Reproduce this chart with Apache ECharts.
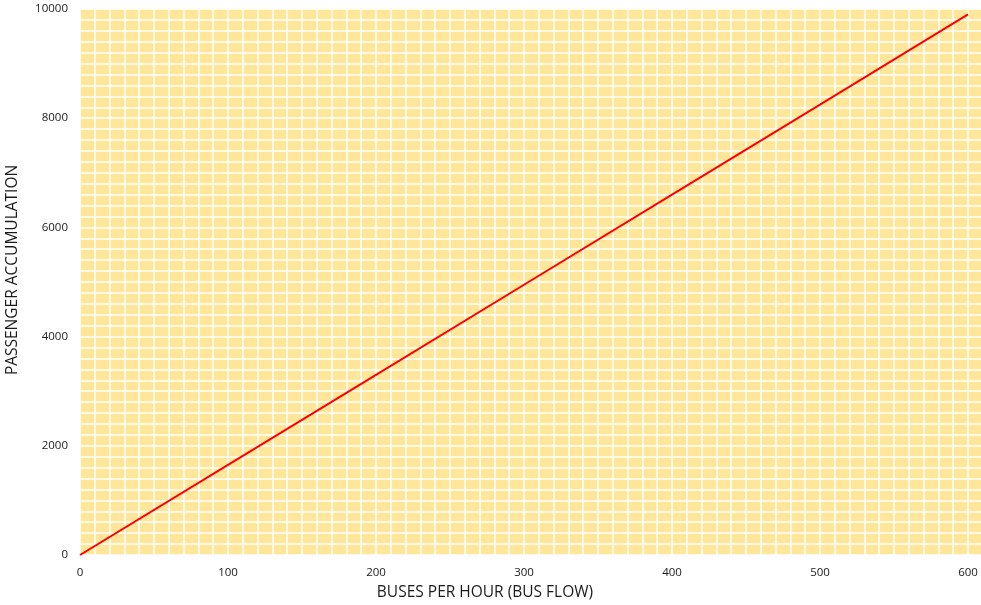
<!DOCTYPE html>
<html>
<head>
<meta charset="utf-8">
<script src="https://cdn.jsdelivr.net/npm/echarts@6/dist/echarts.min.js"></script>
<style>html,body{margin:0;padding:0;background:#fff;}#c{width:981px;height:605px;}</style>
</head>
<body>
<div id="c"></div>
<script>
const busFlow = [0, 100, 200, 300, 400, 500, 600];
const passengerAccumulation = [0, 1650, 3300, 4950, 6600, 8250, 9900];
const xTickLabels = ['0', '100', '200', '300', '400', '500', '600'];
const xTitle = 'BUSES PER HOUR (BUS FLOW)';
const yTitle = 'PASSENGER ACCUMULATION';

const chart = echarts.init(document.getElementById('c'), null, {renderer: 'canvas'});
const font = 'Open Sans, Noto Sans, sans-serif';
chart.setOption({
  animation: false,
  grid: {left: 80, right: -135, top: 9, bottom: 50, backgroundColor: '#FFE699', show: true, borderWidth: 0,
         containLabel: false, outerBoundsMode: 'none'},
  xAxis: {
    type: 'value', min: 0, max: 700, interval: 100,
    name: xTitle, nameLocation: 'middle', nameGap: 30,
    nameTextStyle: {fontFamily: font, fontSize: 15.5, color: '#1a1a1a', padding: [0, 0, 0, -226]},
    axisLine: {show: false}, axisTick: {show: false},
    axisLabel: {fontFamily: font, fontSize: 11.5, color: '#1a1a1a', margin: 12,
      formatter: v => { const i = busFlow.indexOf(v); return i >= 0 ? xTickLabels[i] : ''; }},
    splitLine: {show: true, lineStyle: {color: '#fff', width: 1.5}},
    minorTick: {show: false, splitNumber: 10},
    minorSplitLine: {show: true, lineStyle: {color: '#fff', width: 1.5}}
  },
  yAxis: {
    type: 'value', min: 0, max: 10000, interval: 2000,
    name: yTitle, nameLocation: 'middle', nameGap: 59,
    nameTextStyle: {fontFamily: font, fontSize: 15.5, color: '#1a1a1a', padding: [0, 0, 0, 24]},
    axisLine: {show: false}, axisTick: {show: false},
    axisLabel: {fontFamily: font, fontSize: 11.5, color: '#1a1a1a', margin: 12, formatter: v => String(v)},
    splitLine: {show: true, lineStyle: {color: '#fff', width: 1.5}},
    minorTick: {show: false, splitNumber: 10},
    minorSplitLine: {show: true, lineStyle: {color: '#fff', width: 1.5}}
  },
  series: [{
    type: 'line',
    data: busFlow.map((x, i) => [x, passengerAccumulation[i]]),
    showSymbol: false,
    lineStyle: {color: '#FF0000', width: 2},
    silent: true
  }]
});
</script>
</body>
</html>
